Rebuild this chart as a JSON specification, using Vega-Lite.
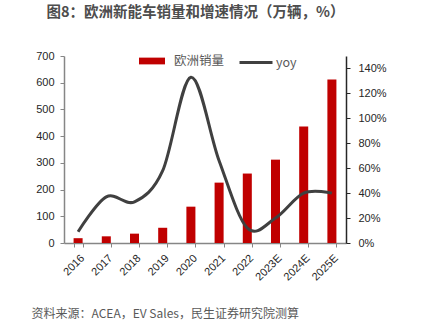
{
  "$schema": "https://vega.github.io/schema/vega-lite/v6.json",
  "autosize": {"type": "none"},
  "width": 282,
  "height": 187,
  "padding": {"left": 64, "top": 56, "right": 85, "bottom": 81},
  "background": "#ffffff",
  "title": {
    "text": "图8：欧洲新能车销量和增速情况（万辆，%）",
    "anchor": "start",
    "frame": "group",
    "dx": -17.5,
    "offset": 24,
    "font": "Noto Sans CJK SC",
    "fontSize": 14.5,
    "fontWeight": "bold",
    "color": "#4d4d4d"
  },
  "config": {
    "view": {"stroke": null},
    "axis": {
      "labelFont": "Liberation Sans",
      "labelFontSize": 11,
      "labelColor": "#262626",
      "grid": false
    }
  },
  "data": {
    "values": [
      {"year": "2016", "sales": 18, "yoy": 9},
      {"year": "2017", "sales": 25, "yoy": 37},
      {"year": "2018", "sales": 35, "yoy": 33},
      {"year": "2019", "sales": 57, "yoy": 58},
      {"year": "2020", "sales": 136, "yoy": 133},
      {"year": "2021", "sales": 226, "yoy": 66},
      {"year": "2022", "sales": 260, "yoy": 12},
      {"year": "2023E", "sales": 312, "yoy": 20},
      {"year": "2024E", "sales": 436, "yoy": 40},
      {"year": "2025E", "sales": 612, "yoy": 40}
    ]
  },
  "encoding": {
    "x": {
      "field": "year",
      "type": "ordinal",
      "sort": null,
      "scale": {"paddingInner": 0.68, "paddingOuter": 0.34},
      "axis": {
        "title": "资料来源：ACEA，EV Sales，民生证券研究院测算",
        "titleFont": "Noto Sans CJK SC",
        "titleFontSize": 12,
        "titleFontWeight": "normal",
        "titleColor": "#595959",
        "titleX": -33,
        "titleY": 70,
        "titleAlign": "left",
        "titleBaseline": "middle",
        "titleAnchor": null,
        "labelAngle": -45,
        "tickBand": "extent",
        "tickSize": 4,
        "tickColor": "#868686",
        "domainColor": "#868686",
        "domainWidth": 1.5,
        "labelPadding": 5
      }
    }
  },
  "layer": [
    {
      "mark": {"type": "bar"},
      "encoding": {
        "y": {
          "field": "sales",
          "type": "quantitative",
          "scale": {"domain": [0, 700]},
          "axis": {
            "title": null,
            "values": [0, 100, 200, 300, 400, 500, 600, 700],
            "tickSize": 4,
            "tickColor": "#868686",
            "domainColor": "#868686",
            "domainWidth": 1.5,
            "labelPadding": 6
          }
        },
        "fill": {
          "datum": "欧洲销量",
          "type": "nominal",
          "scale": {"range": ["#C00000"]},
          "legend": {
            "title": null,
            "orient": "none",
            "legendX": 75,
            "legendY": -8,
            "symbolType": "M-1,-0.26H1V0.26H-1Z",
            "symbolSize": 676,
            "symbolStrokeWidth": 0,
            "labelFont": "Noto Sans CJK SC",
            "labelFontSize": 12.5,
            "labelColor": "#595959",
            "labelOffset": 9
          }
        }
      }
    },
    {
      "mark": {"type": "line", "strokeWidth": 3, "interpolate": "cardinal"},
      "encoding": {
        "y": {
          "field": "yoy",
          "type": "quantitative",
          "scale": {"domain": [0, 150]},
          "axis": {
            "title": null,
            "orient": "right",
            "values": [0, 20, 40, 60, 80, 100, 120, 140],
            "labelExpr": "datum.value + '%'",
            "tickSize": 4,
            "tickColor": "#262626",
            "domainColor": "#262626",
            "domainWidth": 1.5,
            "labelPadding": 8
          }
        },
        "stroke": {
          "datum": "yoy",
          "type": "nominal",
          "scale": {"range": ["#404040"]},
          "legend": {
            "title": null,
            "orient": "none",
            "legendX": 174,
            "legendY": -11.5,
            "symbolType": "stroke",
            "symbolSize": 1089,
            "symbolStrokeWidth": 3,
            "labelFont": "Noto Sans CJK SC",
            "labelFontSize": 12.5,
            "labelColor": "#595959",
            "labelOffset": 2
          }
        }
      }
    }
  ],
  "resolve": {"scale": {"y": "independent"}}
}
